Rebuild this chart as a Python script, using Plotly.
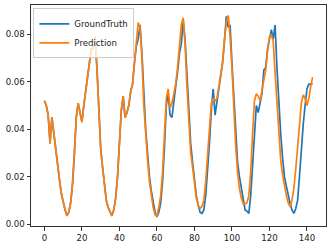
import plotly.graph_objects as go

steps = list(range(144))

ground_truth = [
    0.052, 0.050, 0.046, 0.034, 0.045, 0.038, 0.031, 0.025, 0.019, 0.013,
    0.009, 0.006, 0.0035, 0.005, 0.009, 0.017, 0.030, 0.045, 0.051, 0.047,
    0.043, 0.050, 0.056, 0.063, 0.070, 0.074, 0.074, 0.079, 0.066, 0.048,
    0.032, 0.024, 0.016, 0.010, 0.007, 0.005, 0.0035, 0.006, 0.011, 0.020,
    0.034, 0.048, 0.054, 0.045, 0.047, 0.050, 0.056, 0.059, 0.068, 0.075,
    0.078, 0.084, 0.072, 0.055, 0.040, 0.030, 0.020, 0.014, 0.009, 0.005,
    0.003, 0.005, 0.009, 0.018, 0.032, 0.050, 0.055, 0.046, 0.045, 0.053,
    0.058, 0.064, 0.072, 0.076, 0.086, 0.078, 0.062, 0.046, 0.034, 0.026,
    0.019, 0.012, 0.008, 0.005, 0.0045, 0.006, 0.012, 0.022, 0.034, 0.048,
    0.057, 0.046, 0.052, 0.057, 0.062, 0.068, 0.077, 0.0876, 0.083, 0.084,
    0.068, 0.052, 0.037, 0.026, 0.020, 0.015, 0.009, 0.006, 0.0055, 0.0045,
    0.012, 0.025, 0.038, 0.050, 0.047, 0.051, 0.055, 0.065, 0.066, 0.074,
    0.079, 0.082, 0.078, 0.084, 0.066, 0.050, 0.038, 0.028, 0.020, 0.016,
    0.012, 0.0087, 0.006, 0.0045, 0.0065, 0.010, 0.020, 0.033, 0.042, 0.050,
    0.057, 0.059, 0.059, 0.059,
]

prediction = [
    0.052, 0.050, 0.046, 0.034, 0.045, 0.038, 0.031, 0.025, 0.019, 0.013,
    0.009, 0.006, 0.0035, 0.005, 0.009, 0.017, 0.030, 0.045, 0.051, 0.047,
    0.043, 0.050, 0.056, 0.063, 0.070, 0.074, 0.074, 0.079, 0.066, 0.048,
    0.032, 0.024, 0.016, 0.010, 0.007, 0.005, 0.0035, 0.006, 0.011, 0.020,
    0.034, 0.048, 0.054, 0.045, 0.047, 0.050, 0.056, 0.059, 0.068, 0.077,
    0.085, 0.083, 0.070, 0.050, 0.036, 0.027, 0.018, 0.012, 0.007, 0.004,
    0.0035, 0.007, 0.012, 0.022, 0.036, 0.053, 0.057, 0.049, 0.051, 0.055,
    0.059, 0.066, 0.074, 0.084, 0.087, 0.076, 0.058, 0.042, 0.030, 0.024,
    0.016, 0.011, 0.008, 0.0066, 0.0075, 0.010, 0.018, 0.028, 0.038, 0.051,
    0.053, 0.052, 0.053, 0.058, 0.062, 0.068, 0.078, 0.085, 0.088, 0.079,
    0.066, 0.048, 0.033, 0.022, 0.015, 0.011, 0.0085, 0.0085, 0.009, 0.012,
    0.022, 0.038, 0.052, 0.055, 0.054, 0.052, 0.057, 0.061, 0.065, 0.073,
    0.079, 0.080, 0.077, 0.064, 0.050, 0.036, 0.027, 0.021, 0.016, 0.012,
    0.009, 0.0073, 0.010, 0.015, 0.023, 0.033, 0.044, 0.051, 0.0545, 0.053,
    0.050, 0.053, 0.058, 0.062,
]

x_ticks = [0, 20, 40, 60, 80, 100, 120, 140]
y_ticks = [0.00, 0.02, 0.04, 0.06, 0.08]

fig = go.Figure()
fig.add_trace(go.Scatter(x=steps, y=ground_truth, mode="lines", name="GroundTruth",
                         line=dict(color="#1f77b4", width=1.7)))
fig.add_trace(go.Scatter(x=steps, y=prediction, mode="lines", name="Prediction",
                         line=dict(color="#ff7f0e", width=1.7)))

axis_common = dict(showgrid=False, zeroline=False, showline=True, linecolor="#333333",
                   linewidth=1, mirror=True, ticks="outside", ticklen=3.5,
                   tickcolor="#333333", tickwidth=1, automargin=False,
                   tickfont=dict(family="DejaVu Sans", size=8.6, color="#222222"))

fig.update_layout(
    width=332, height=246,
    margin=dict(l=31, r=6, t=5, b=20),
    paper_bgcolor="white", plot_bgcolor="white",
    showlegend=True,
    legend=dict(x=0.008, y=0.985, xanchor="left", yanchor="top",
                bgcolor="rgba(255,255,255,0.8)", bordercolor="#cccccc", borderwidth=1,
                font=dict(family="DejaVu Sans", size=8.6, color="#222222"),
                tracegroupgap=0, itemwidth=30),
    xaxis=dict(range=[-7.15, 150.15], tickvals=x_ticks,
               ticktext=[str(v) for v in x_ticks], **axis_common),
    yaxis=dict(range=[-0.0008, 0.0924], tickvals=y_ticks,
               ticktext=[f"{v:.2f}" for v in y_ticks], **axis_common),
)

fig.write_html("out.html", config={"displayModeBar": False},
               post_script="document.body.style.margin='0';document.body.style.overflow='hidden';")
